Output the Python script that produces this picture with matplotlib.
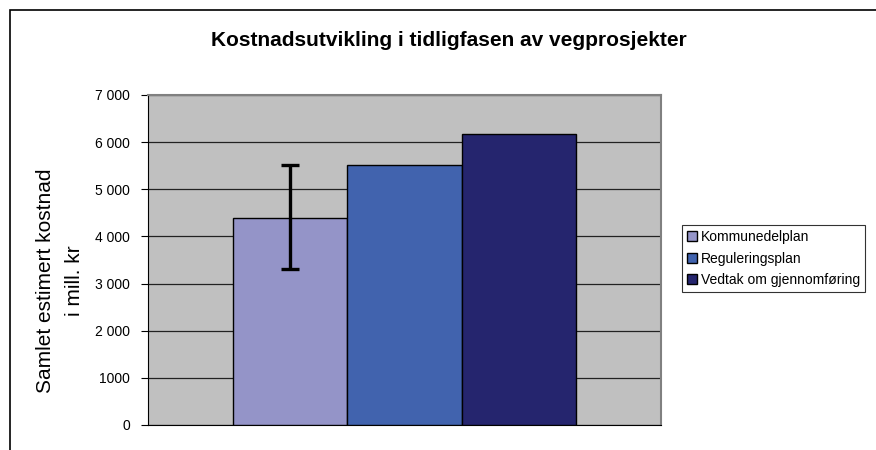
import matplotlib.pyplot as plt
from matplotlib.patches import Rectangle

plt.rcParams["font.family"] = ["Liberation Sans", "DejaVu Sans"]

# Data
series = ["Kommunedelplan", "Reguleringsplan", "Vedtak om gjennomføring"]
values = [4390, 5515, 6170]
colors = ["#9494C8", "#4163AE", "#25256E"]
err_low = [3310]
err_high = [5515]
yticks = [0, 1000, 2000, 3000, 4000, 5000, 6000, 7000]
ytick_labels = ["0", "1000", "2 000", "3 000", "4 000", "5 000", "6 000", "7 000"]

fig = plt.figure(figsize=(8.76, 4.5), dpi=100)
ax = fig.add_axes([148 / 876, 25 / 450, 513 / 876, 330 / 450])

# outer chart frame
fig.patches.append(Rectangle((10 / 876, -0.1), 2, (440 / 450) + 0.1,
                             transform=fig.transFigure, fill=False,
                             edgecolor="black", linewidth=1.2))

bar_w = 0.2228
positions = [-bar_w, 0, bar_w]
for pos, val, col, name in zip(positions, values, colors, series):
    ax.bar(pos, val, width=bar_w, color=col, edgecolor="black",
           linewidth=1, label=name, zorder=3)

# error bar on the first bar
ax.errorbar([positions[0]], [values[0]],
            yerr=[[values[0] - err_low[0]], [err_high[0] - values[0]]],
            fmt="none", ecolor="black", elinewidth=2.4, capsize=6.5,
            capthick=2.4, zorder=4)

ax.set_xlim(-0.5, 0.5)
ax.set_ylim(0, 7000)
ax.set_facecolor("#C0C0C0")
ax.set_yticks(yticks)
ax.set_yticklabels(ytick_labels, fontsize=10)
ax.set_xticks([])
ax.grid(axis="y", color="#222222", linewidth=0.9, zorder=0)
ax.tick_params(axis="y", length=5, width=0.8, direction="out", pad=8)
for side in ["top", "right"]:
    ax.spines[side].set_color("#808080")
    ax.spines[side].set_linewidth(1.5)
ax.spines["left"].set_color("black")
ax.spines["bottom"].set_color("black")

fig.text(60 / 876, 1 - 281 / 450, "Samlet estimert kostnad\ni mill. kr",
         rotation=90, ha="center", va="center", fontsize=15, linespacing=1.6)

fig.text(449 / 876, 1 - 40 / 450, "Kostnadsutvikling i tidligfasen av vegprosjekter",
         ha="center", va="center", fontsize=15, fontweight="bold")

leg = ax.legend(loc="upper left", bbox_to_anchor=(682 / 876, 1 - 225 / 450),
                bbox_transform=fig.transFigure, fontsize=10, frameon=True,
                fancybox=False, edgecolor="black", handlelength=0.7,
                handleheight=0.7, handletextpad=0.3, borderpad=0.35,
                labelspacing=0.55, borderaxespad=0)
leg.get_frame().set_linewidth(0.8)

fig.savefig("out.png", dpi=100)
